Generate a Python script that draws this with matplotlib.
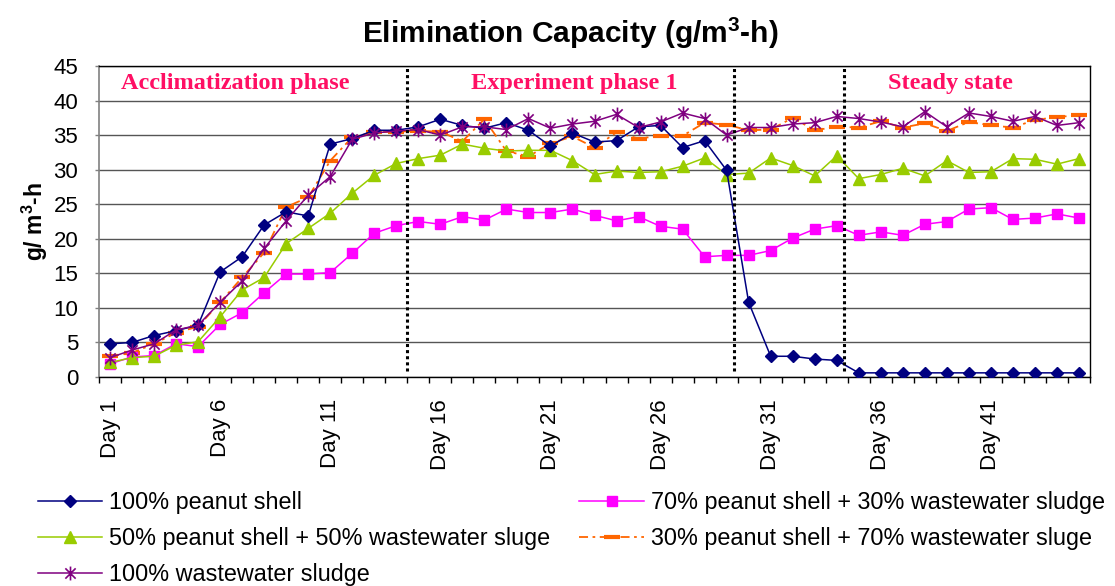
import numpy as np
import matplotlib
matplotlib.use("Agg")
import matplotlib.pyplot as plt
from matplotlib.path import Path

plt.rcParams['font.family'] = ['Liberation Sans', 'DejaVu Sans']
plt.rcParams['mathtext.fontset'] = 'custom'
plt.rcParams['mathtext.rm'] = 'Liberation Sans'
plt.rcParams['mathtext.bf'] = 'Liberation Sans:bold'

# ---- data -------------------------------------------------------------
days = [f"Day {i}" for i in range(1, 46)]

peanut_100 = [4.8, 5.0, 6.0, 6.7, 7.5, 15.2, 17.4, 22.0, 23.9, 23.3,
              33.7, 34.5, 35.7, 35.7, 36.2, 37.3, 36.4, 36.0, 36.8, 35.7,
              33.4, 35.3, 34.0, 34.2, 36.2, 36.4, 33.2, 34.2, 29.9, 10.8,
              3.0, 3.0, 2.6, 2.4, 0.6, 0.6, 0.6, 0.6, 0.6, 0.6,
              0.6, 0.6, 0.6, 0.6, 0.6]

peanut70_sludge30 = [1.9, 2.9, 3.1, 4.8, 4.4, 7.6, 9.3, 12.2, 14.9, 14.9,
                     15.1, 17.9, 20.8, 21.9, 22.5, 22.1, 23.2, 22.7, 24.3, 23.8,
                     23.8, 24.3, 23.4, 22.6, 23.2, 21.8, 21.4, 17.4, 17.6, 17.6,
                     18.3, 20.1, 21.4, 21.9, 20.5, 21.0, 20.5, 22.1, 22.5, 24.3,
                     24.5, 22.8, 23.0, 23.6, 23.0]

peanut50_sludge50 = [2.1, 2.8, 3.0, 4.6, 5.1, 8.7, 12.6, 14.4, 19.3, 21.5,
                     23.7, 26.6, 29.2, 30.9, 31.6, 32.1, 33.7, 33.1, 32.7, 32.8,
                     32.8, 31.3, 29.3, 29.8, 29.6, 29.7, 30.5, 31.7, 29.3, 29.5,
                     31.7, 30.6, 29.1, 32.0, 28.7, 29.3, 30.2, 29.1, 31.3, 29.6,
                     29.7, 31.6, 31.5, 30.8, 31.6]

peanut30_sludge70 = [3.0, 3.5, 4.8, 6.4, 7.3, 10.8, 14.4, 18.0, 24.6, 26.0,
                     31.3, 34.7, 35.4, 35.5, 35.6, 35.5, 34.1, 37.3, 32.7, 31.9,
                     33.8, 34.8, 33.2, 35.4, 34.5, 34.9, 34.9, 36.8, 36.5, 35.7,
                     35.8, 37.5, 35.7, 36.2, 36.1, 37.0, 36.1, 36.7, 35.6, 36.9,
                     36.4, 36.1, 37.2, 37.6, 37.9]

sludge_100 = [2.8, 3.9, 4.8, 6.8, 7.5, 10.8, 13.9, 18.6, 22.6, 26.3,
              29.0, 34.4, 35.3, 35.6, 35.8, 35.0, 36.2, 36.2, 35.8, 37.4,
              36.0, 36.6, 37.0, 38.0, 36.1, 36.9, 38.2, 37.4, 35.0, 36.1,
              36.1, 36.6, 36.8, 37.7, 37.4, 36.9, 36.2, 38.4, 36.2, 38.2,
              37.7, 37.0, 37.7, 36.4, 36.8]

series_labels = ["100% peanut shell",
                 "70% peanut shell + 30% wastewater sludge",
                 "50% peanut shell + 50% wastewater sluge",
                 "30% peanut shell + 70% wastewater sluge",
                 "100% wastewater sludge"]

phase_labels = ["Acclimatization phase", "Experiment phase 1", "Steady state"]
phase_label_x = [6.68, 22.1, 39.15]
phase_bounds = [14.5, 29.34, 34.35]

# ---- figure -----------------------------------------------------------
W, H = 1115, 586
fig = plt.figure(figsize=(W / 100, H / 100), dpi=100)
ax = fig.add_axes([99 / W, 1 - 377 / H, (1090 - 99) / W, (377 - 66) / H])

x = np.arange(1, len(days) + 1)

star = Path([(-1, -1), (1, 1), (-1, 1), (1, -1), (0, -1.35), (0, 1.35)],
            [Path.MOVETO, Path.LINETO, Path.MOVETO, Path.LINETO,
             Path.MOVETO, Path.LINETO])

lw = 1.1
h_blue, = ax.plot(x, peanut_100, color='#000080', lw=lw, marker='D', ms=6,
                  mfc='#000080', mec='#000080', label=series_labels[0], zorder=5)
h_mag, = ax.plot(x, peanut70_sludge30, color='#FF00FF', lw=lw, marker='s', ms=7,
                 mfc='#FF00FF', mec='#FF00FF', label=series_labels[1], zorder=4)
h_green, = ax.plot(x, peanut50_sludge50, color='#99CC00', lw=lw, marker='^', ms=8,
                   mfc='#99CC00', mec='#99CC00', label=series_labels[2], zorder=4)
h_orange, = ax.plot(x, peanut30_sludge70, color='#FF6600', lw=1.3,
                    linestyle=(0, (5, 2.5, 1.5, 2.5)), marker='_', ms=11, mew=3,
                    mec='#FF6600', label=series_labels[3], zorder=3)
h_purple, = ax.plot(x, sludge_100, color='#800080', lw=lw, marker=star, ms=10,
                    mfc='none', mec='#800080', mew=1.2, label=series_labels[4], zorder=6)

# phase boundaries
for b in phase_bounds:
    ax.plot([b, b], [0.8, 45], color='black', lw=2.2,
            linestyle=(0, (1, 1)), zorder=7, solid_capstyle='butt')

# phase names
for lab, px in zip(phase_labels, phase_label_x):
    ax.text(px, 42.4, lab, ha='center', va='center', color='#FF0F64',
            fontsize=17.5, fontweight='bold', family='Liberation Serif')

# axes styling
ax.set_xlim(0.5, 45.5)
ax.set_ylim(0, 45)
ax.set_yticks(np.arange(0, 46, 5))
ax.yaxis.grid(True, color='#555555', lw=1.0)
ax.set_axisbelow(True)

ax.set_xticks(x[::5])
ax.set_xticklabels(days[::5], rotation=90, fontsize=16)
ax.set_xticks(np.arange(0.5, 46, 1), minor=True)
ax.tick_params(axis='x', which='major', length=0, pad=16)
ax.tick_params(axis='x', which='minor', length=4.5, width=1, direction='out')
ax.tick_params(axis='y', length=3, width=1, direction='out', pad=12, labelsize=16,
               color='#808080')

for side in ['top', 'right', 'bottom']:
    ax.spines[side].set_color('black')
    ax.spines[side].set_linewidth(1.0)
ax.spines['left'].set_color('#808080')
ax.spines['left'].set_linewidth(1.2)

# titles
fig.text(570 / W, 1 - 33 / H, r'Elimination Capacity (g/m$^{\mathbf{3}}$-h)',
         ha='center', va='center', fontsize=21.5, fontweight='bold')
fig.text(35 / W, 1 - 221 / H, r'g/ m$^{\mathbf{3}}$-h', ha='center', va='center',
         rotation=90, fontsize=16.5, fontweight='bold')

# legend (column-major order gives the two-column row layout)
handles = [h_blue, h_green, h_purple, h_mag, h_orange]
fig.legend(handles, [h.get_label() for h in handles], loc='upper left',
           bbox_to_anchor=(38 / W, 1 - 491 / H), ncol=2, frameon=False,
           borderpad=0, borderaxespad=0, handlelength=2.75, handletextpad=0.3,
           columnspacing=1.25, labelspacing=0.56, fontsize=16.8)

fig.savefig("out.png", dpi=100)
